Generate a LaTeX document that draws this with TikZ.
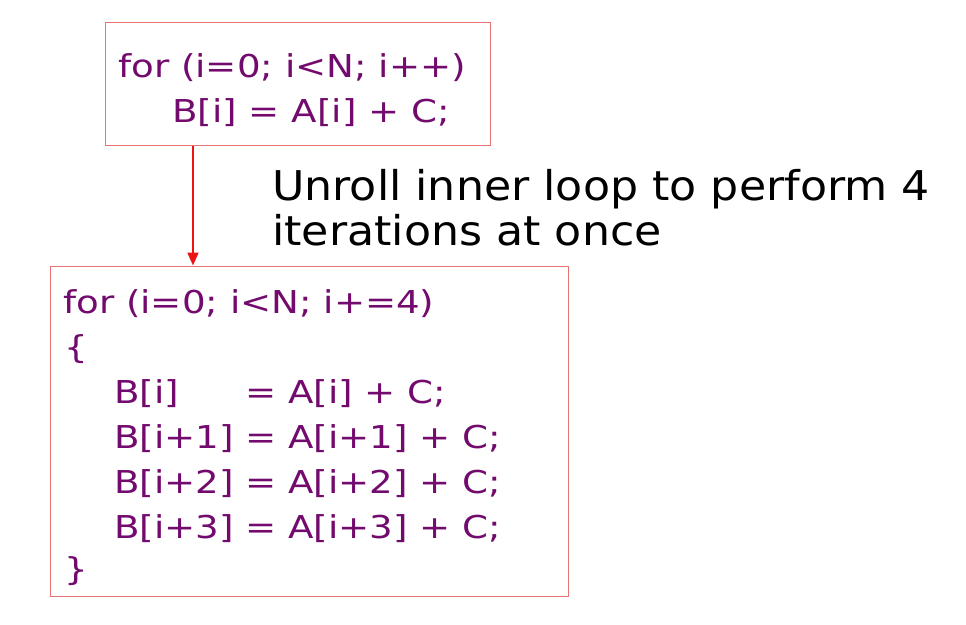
\documentclass[tikz,border=0pt]{standalone}
\usepackage{fontspec}
\setmainfont{DejaVu Sans}
\newfontfamily\codefont[FakeStretch=1.18]{DejaVu Sans}
\newfontfamily\notefont[FakeStretch=1.08]{DejaVu Sans}
\usetikzlibrary{arrows.meta}
\definecolor{codepurple}{RGB}{115,10,110}
\definecolor{boxred}{RGB}{232,115,115}
\definecolor{arrowred}{RGB}{235,20,20}
\tikzset{
  codebox/.style={draw=boxred, line width=1pt, inner sep=0pt, rectangle},
  code/.style={anchor=base west, inner sep=0pt, text=codepurple, font=\codefont\fontsize{31.5}{38}\selectfont},
  note/.style={anchor=base west, inner sep=0pt, text=black, font=\notefont\fontsize{41}{50}\selectfont},
  flow/.style={draw=arrowred, line width=2pt, -{Triangle[length=13pt,width=11pt]}}
}
\begin{document}
\begin{tikzpicture}[x=1pt,y=-1pt]
\useasboundingbox (0,0) rectangle (966,624);
% boxes
\node[codebox, minimum width=385pt, minimum height=123pt] (top) at (297.5,83.5) {};
\node[codebox, minimum width=518pt, minimum height=330pt] (bot) at (309,431) {};
% top code
\node[code] (t1) at (118,77) {for (i=0; i<N; i++)};
\node[code] (t2) at (172,122) {B[i] = A[i] + C;};
% bottom code
\node[code] (b1) at (63,313) {for (i=0; i<N; i+=4)};
\node[code] (b2) at (64,358) {\{};
\node[code] (b3) at (114,403) {B[i]};
\node[code] (b3r) at (245,403) {= A[i] + C;};
\node[code] (b4) at (114,448) {B[i+1] = A[i+1] + C;};
\node[code] (b5) at (114,493) {B[i+2] = A[i+2] + C;};
\node[code] (b6) at (114,538) {B[i+3] = A[i+3] + C;};
\node[code] (b7) at (64,580) {\}};
% note
\node[note] (n1) at (272,200) {Unroll inner loop to perform 4};
\node[note] (n2) at (272,245) {iterations at once};
% arrow
\coordinate (a0) at (193,145);
\coordinate (a1) at (193,266);
\draw[flow] (top.south -| a0) -- (bot.north -| a1);
\end{tikzpicture}
\end{document}
